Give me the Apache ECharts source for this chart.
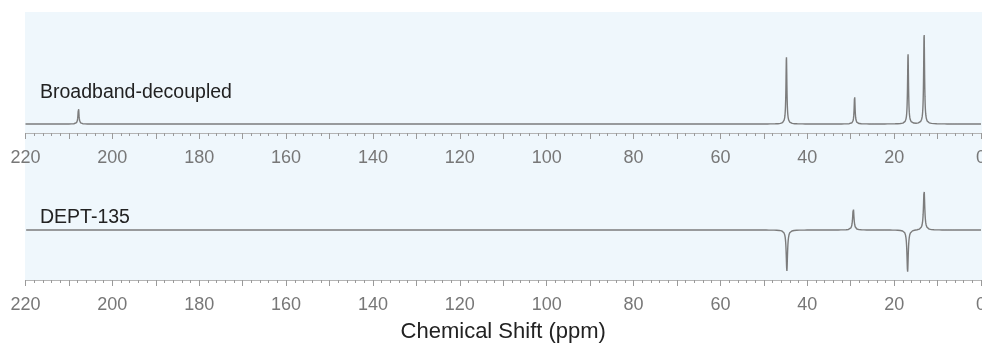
<!DOCTYPE html>
<html>
<head>
<meta charset="utf-8">
<script src="https://cdn.jsdelivr.net/npm/echarts@6/dist/echarts.min.js"></script>
<style>
  html, body { margin: 0; padding: 0; background: #fff; }
  #spectrum { width: 982px; height: 344px; }
</style>
</head>
<body>
<div id="spectrum"></div>
<script type="text/javascript">
// peak list (ppm, relative intensity)
var bbShifts = [207.8, 44.8, 29.1, 16.8, 13.1];
var bbHeights = [17, 67, 28, 70, 91];
var deptShifts = [44.7, 29.4, 16.9, 13.1];
var deptHeights = [-41, 22, -42, 40];
var tickLabels = [220, 200, 180, 160, 140, 120, 100, 80, 60, 40, 20, 0];
var panelNames = ['Broadband-decoupled', 'DEPT-135'];

var chart = echarts.init(document.getElementById('spectrum'));

// lorentzian line shape for a peak list
function buildSpectrum(shifts, heights, halfWidth) {
	var xs = [];
	for (var i = 0; i <= 4400; i++) xs.push(i * 0.05);
	for (var p = 0; p < shifts.length; p++) {
		for (var k = -150; k <= 150; k++) xs.push(shifts[p] + k * 0.01);
	}
	xs.sort(function (a, b) { return a - b; });
	var pts = [];
	var last = null;
	for (var j = 0; j < xs.length; j++) {
		var x = +xs[j].toFixed(3);
		if (x === last || x < 0 || x > 220) continue;
		last = x;
		var y = 0;
		for (var q = 0; q < shifts.length; q++) {
			var d = x - shifts[q];
			y += heights[q] * halfWidth * halfWidth / (d * d + halfWidth * halfWidth);
		}
		pts.push([x, y]);
	}
	return pts;
}

function makeXAxis(gridIndex) {
	return {
		type: 'value',
		gridIndex: gridIndex,
		inverse: true,
		min: 0,
		max: 220,
		interval: 10,
		axisLine: { show: true, onZero: false, lineStyle: { color: '#b4b4b4', width: 1 } },
		axisTick: { show: true, length: 6, lineStyle: { color: '#9a9a9a' } },
		minorTick: { show: true, splitNumber: 5, length: 3, lineStyle: { color: '#9a9a9a' } },
		splitLine: { show: false },
		axisLabel: {
			show: true,
			margin: 16,
			fontSize: 18,
			color: '#777',
			fontFamily: 'Liberation Sans, Arial, sans-serif',
			showMinLabel: true,
			showMaxLabel: true,
			hideOverlap: false,
			formatter: function (v) {
				return tickLabels.indexOf(v) >= 0 ? String(v) : '';
			}
		}
	};
}

var bottomAxis = makeXAxis(1);
bottomAxis.name = 'Chemical Shift (ppm)';
bottomAxis.nameLocation = 'middle';
bottomAxis.nameGap = 41;
bottomAxis.nameTextStyle = { fontSize: 22, color: '#222', fontFamily: 'Liberation Sans, Arial, sans-serif' };

var lineStyle = { color: '#7c7c7c', width: 1.4 };
var panelFont = 'Liberation Sans, Arial, sans-serif';

var options = {
	animation: false,
	backgroundColor: '#fff',
	graphic: [
		{
			type: 'rect', z: -10, silent: true,
			shape: { x: 25, y: 12, width: 957, height: 268 },
			style: { fill: '#eff7fc' }
		},
		{
			type: 'text', left: 40, top: 83,
			style: { text: panelNames[0], fontSize: 19.5, fill: '#222', fontFamily: panelFont }
		},
		{
			type: 'text', left: 40, top: 208,
			style: { text: panelNames[1], fontSize: 19.5, fill: '#222', fontFamily: panelFont }
		}
	],
	grid: [
		{ left: 25.5, right: 1, top: 12, height: 121, outerBoundsMode: 'none' },
		{ left: 25.5, right: 1, top: 180, height: 100, outerBoundsMode: 'none' }
	],
	xAxis: [makeXAxis(0), bottomAxis],
	yAxis: [
		{ type: 'value', gridIndex: 0, min: -9, max: 112, show: false },
		{ type: 'value', gridIndex: 1, min: -50, max: 50, show: false }
	],
	series: [
		{
			name: panelNames[0],
			type: 'line',
			xAxisIndex: 0,
			yAxisIndex: 0,
			showSymbol: false,
			lineStyle: lineStyle,
			data: buildSpectrum(bbShifts, bbHeights, 0.13)
		},
		{
			name: panelNames[1],
			type: 'line',
			xAxisIndex: 1,
			yAxisIndex: 1,
			showSymbol: false,
			lineStyle: lineStyle,
			data: buildSpectrum(deptShifts, deptHeights, 0.18)
		}
	]
};
chart.setOption(options);
</script>
</body>
</html>
